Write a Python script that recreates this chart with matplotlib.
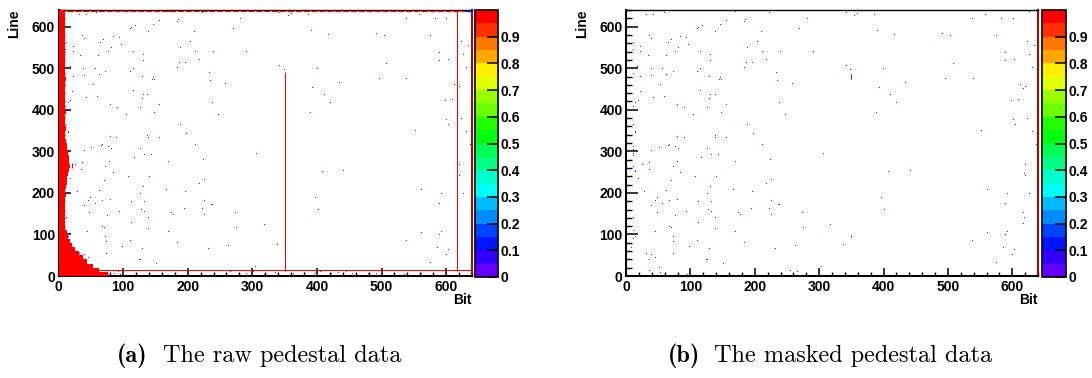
import colorsys
import numpy as np
import matplotlib
matplotlib.use("Agg")
import matplotlib.pyplot as plt
from matplotlib.colors import ListedColormap, BoundaryNorm
from matplotlib.cm import ScalarMappable
from matplotlib.ticker import MultipleLocator

# ---------------- data ----------------
N_BITS = 640
N_LINES = 640

# isolated low-occupancy pixels (bit, line), present in both raw and masked data
noise_bits = [31, 42, 58, 132, 169, 155, 184, 183, 146, 118, 112, 110, 138, 209, 36, 39, 84, 93, 69, 64,
              96, 203, 11, 22, 81, 10, 22, 76, 115, 188, 211, 33, 61, 130, 130, 186, 195, 183, 17, 38,
              56, 115, 72, 110, 10, 22, 39, 62, 129, 146, 144, 147, 53, 115, 21, 42, 59, 130, 137, 129,
              18, 14, 10, 79, 90, 126, 155, 147, 104, 11, 188, 14, 14, 79, 89, 137, 138, 155, 197, 211,
              65, 67, 50, 76, 81, 11, 10, 10, 10, 10, 39, 126, 132, 143, 116, 78, 36, 25, 169, 11,
              13, 14, 35, 72, 84, 18, 107, 140, 70, 130, 28, 62, 126, 166, 195, 48, 45, 67, 79, 112,
              132, 56, 39, 93, 127, 47, 132, 75, 138, 174, 177, 194, 11, 67, 70, 112, 44, 138, 169, 11,
              14, 10, 72, 73, 110, 183, 98, 8, 129, 31, 39, 45, 73, 36, 124, 126, 150, 50, 35, 53, 95,
              232, 222, 341, 359, 354, 385, 280, 269, 390, 416, 239, 290, 217, 341, 348, 399, 232, 234,
              257, 392, 410, 237, 419, 246, 388, 305, 223, 407, 225, 217, 225, 396, 235, 237, 222, 225,
              401, 273, 274, 317, 337, 262, 231, 303, 254, 265,
              626, 557, 537, 582, 600, 491, 503, 574, 622, 634, 589, 626, 589, 602, 507, 630, 433, 495,
              538, 611, 616, 620, 597, 609, 600, 603, 622, 551, 630, 637, 619, 440, 617, 619, 560, 592,
              625, 588, 616, 617, 616, 560, 592, 588, 537, 585, 602, 599, 574]
noise_lines = [628, 628, 633, 638, 634, 613, 615, 610, 603, 601, 596, 594, 586, 586, 576, 569, 574, 572, 567, 560,
               555, 562, 560, 550, 548, 543, 538, 538, 538, 548, 538, 528, 528, 531, 516, 512, 512, 500, 502, 497,
               497, 497, 490, 490, 485, 478, 480, 483, 478, 475, 471, 471, 459, 444, 442, 428, 430, 435, 435, 425,
               420, 415, 406, 411, 403, 403, 411, 391, 387, 363, 363, 346, 343, 334, 331, 336, 331, 331, 342, 314,
               312, 314, 307, 310, 305, 310, 302, 298, 292, 288, 300, 305, 290, 290, 283, 274, 271, 266, 274, 261,
               252, 249, 254, 261, 247, 233, 237, 237, 228, 213, 202, 204, 197, 206, 201, 186, 180, 180, 182, 177,
               177, 172, 168, 153, 158, 151, 153, 144, 139, 151, 146, 160, 139, 117, 115, 127, 105, 112, 105, 108,
               93, 88, 93, 81, 83, 79, 69, 67, 64, 52, 50, 43, 52, 38, 38, 38, 28, 18, 11, 6, 2,
               640, 632, 632, 630, 625, 627, 618, 593, 589, 579, 538, 538, 519, 504, 495, 497, 488, 468,
               461, 452, 435, 415, 415, 387, 391, 293, 278, 249, 230, 220, 180, 187, 170, 170, 160, 146,
               158, 151, 115, 122, 74, 71, 64, 21, 11, 9,
               634, 627, 618, 618, 618, 581, 577, 577, 562, 553, 536, 531, 516, 519, 509, 500, 464, 473,
               473, 459, 449, 454, 420, 423, 375, 363, 377, 348, 346, 314, 266, 252, 245, 240, 206, 196,
               196, 172, 151, 139, 124, 103, 105, 98, 83, 66, 62, 50, 30]
noise_level = 0.02

# raw data: width (in bits) of the saturated block at the left edge, one value per 10-line band
hot_edge_width = [76, 62, 52, 44, 37, 31, 25, 20, 17, 14,
                  12, 10, 9, 9, 10, 9, 10, 9, 10, 11,
                  10, 11, 12, 12, 14, 16, 17, 15, 16, 14,
                  13, 12, 11, 10, 10, 11, 10, 9, 10, 11,
                  10, 9, 10, 9, 9, 10, 9, 11, 9, 10,
                  9, 10, 9, 9, 10, 9, 9, 10, 9, 10,
                  9, 10, 9, 10]
hot_level = 1.0
hot_cols = [350, 616]
hot_col_top = [491, 640]
hot_row = 13
top_row = 638
warm_top_bits = [629, 640]
warm_top_level = 0.12
hot_speck_bits = [86, 92, 290, 300, 318, 335, 362, 380, 395, 405, 422, 432, 444, 454, 470, 475, 479, 491, 534, 561]
hot_speck_lines = [4, 8, 5, 8, 3, 6, 4, 7, 5, 9, 4, 6, 8, 4, 11, 11, 4, 5, 3, 5]
hot_tick_bit = 20
hot_tick_lines = [260, 272]

# masked data: residual low hits on column 349
residual_bit = 349
residual_lines = [[475, 487], [93, 99]]

x_major = [0, 100, 200, 300, 400, 500, 600]
y_major = [0, 100, 200, 300, 400, 500, 600]
cbar_ticks = [0, 0.1, 0.2, 0.3, 0.4, 0.5, 0.6, 0.7, 0.8, 0.9]
cbar_labels = ["0", "0.1", "0.2", "0.3", "0.4", "0.5", "0.6", "0.7", "0.8", "0.9"]
caption_tags = ["(a)", "(b)"]
caption_texts = ["The raw pedestal data", "The masked pedestal data"]

# ---------------- style ----------------
plt.rcParams["font.family"] = ["Liberation Sans", "DejaVu Sans"]
plt.rcParams["font.weight"] = "bold"

# ROOT "pretty" palette with 20 contours
def root_palette(ncont=20, ncol=50):
    cols = []
    for i in range(ncont):
        idx = int((i + 0.99) * ncol / ncont)
        hue = 280.0 - (idx + 1) * 280.0 / ncol
        cols.append(colorsys.hls_to_rgb(hue / 360.0, 0.5, 1.0))
    return cols

cmap = ListedColormap(root_palette())
norm = BoundaryNorm(np.linspace(0, 1, 21), cmap.N)
RED = cmap(norm(hot_level))
LOW = cmap(norm(noise_level))
LW = 0.75

W, H = 1092, 378
fig = plt.figure(figsize=(W / 100, H / 100), dpi=100)

def fx(px):
    return px / W

def fy(py):
    return 1 - py / H

panels = [dict(ax=(58.5, 10, 472, 276), cb=(475, 10, 498, 277), raw=True, tag_x=117, txt_x=163),
          dict(ax=(626, 10, 1038, 276), cb=(1042, 10, 1066, 277), raw=False, tag_x=668, txt_x=714)]

for p, tag, txt in zip(panels, caption_tags, caption_texts):
    x0, y0, x1, y1 = p["ax"]
    ax = fig.add_axes([fx(x0), fy(y1), (x1 - x0) / W, (y1 - y0) / H])
    ax.set_xlim(0, N_BITS)
    ax.set_ylim(0, N_LINES)

    ax.plot(np.array(noise_bits) + 0.5, np.array(noise_lines) + 0.5, ",", color=LOW,
            linestyle="none", zorder=2)

    if p["raw"]:
        img = np.full((N_LINES, N_BITS), np.nan)
        for band, w in enumerate(hot_edge_width):
            img[band * 10:(band + 1) * 10, :w] = hot_level
        ax.imshow(img, origin="lower", extent=[0, N_BITS, 0, N_LINES], aspect="auto",
                  interpolation="nearest", cmap=cmap, norm=norm, zorder=3)
        ax.plot(np.array(hot_speck_bits) + 0.5, np.array(hot_speck_lines) + 0.5, ",",
                color=RED, linestyle="none", zorder=3)
        ax.vlines([c + 0.5 for c in hot_cols], [hot_row] * len(hot_cols), hot_col_top,
                  colors=[RED], linewidth=LW, snap=True, zorder=4)
        ax.hlines([hot_row + 0.5], 0, N_BITS, colors=[RED], linewidth=LW, snap=True, zorder=4)
        ax.vlines([hot_tick_bit + 0.5], hot_tick_lines[0], hot_tick_lines[1], colors=[RED],
                  linewidth=LW, snap=True, zorder=4)
        ax.hlines([top_row + 0.5], 0, warm_top_bits[0], colors=[RED], linewidth=0.9,
                  linestyles=[(0, (5, 1.3))], snap=True, zorder=4)
        ax.hlines([top_row + 0.5], warm_top_bits[0], warm_top_bits[1],
                  colors=[cmap(norm(warm_top_level))], linewidth=0.9, snap=True, zorder=4)
    else:
        for lo, hi in residual_lines:
            ax.vlines([residual_bit + 0.5], lo, hi, colors=[LOW], linewidth=LW, snap=True,
                      zorder=4)

    ax.set_xticks(x_major)
    ax.set_yticks(y_major)
    ax.xaxis.set_minor_locator(MultipleLocator(20))
    ax.yaxis.set_minor_locator(MultipleLocator(20))
    ax.tick_params(axis="x", which="major", direction="in", length=5.5, width=1.1,
                   pad=3, labelsize=10, top=False)
    ax.tick_params(axis="x", which="minor", direction="in", length=3, width=1.0, top=False)
    ax.tick_params(axis="y", which="major", direction="in", length=8.5, width=1.1,
                   pad=2.5, labelsize=10, right=False)
    ax.tick_params(axis="y", which="minor", direction="in", length=4.5, width=1.0, right=False)
    for lab in ax.get_xticklabels() + ax.get_yticklabels():
        lab.set_fontweight("bold")
    ax.spines["left"].set_linewidth(1.5)
    ax.spines["bottom"].set_linewidth(1.5)
    ax.spines["top"].set_linewidth(1.0)
    ax.spines["right"].set_linewidth(1.6)
    ax.spines["right"].set_color("#7a1c12")

    fig.text(fx(x0 - 44), fy(y0), "Line", rotation=90, ha="center", va="top",
             fontsize=10, fontweight="bold")
    fig.text(fx(x1), fy(300), "Bit", ha="right", va="center", fontsize=10, fontweight="bold")

    cx0, cy0, cx1, cy1 = p["cb"]
    cax = fig.add_axes([fx(cx0), fy(cy1), (cx1 - cx0) / W, (cy1 - cy0) / H])
    cb = fig.colorbar(ScalarMappable(norm=norm, cmap=cmap), cax=cax, ticks=cbar_ticks)
    cb.ax.set_yticklabels(cbar_labels)
    cb.ax.tick_params(direction="in", length=8, width=1.1, pad=2, labelsize=10, right=True)
    cb.ax.minorticks_off()
    for lab in cb.ax.get_yticklabels():
        lab.set_fontweight("bold")
    cb.outline.set_linewidth(1.2)

    fig.text(fx(p["tag_x"]), fy(362), tag, ha="left", va="baseline", fontsize=17.5,
             family="cmb10", fontweight="normal")
    fig.text(fx(p["txt_x"]), fy(362), txt, ha="left", va="baseline", fontsize=17.5,
             family="cmr10", fontweight="normal")

fig.savefig("out.png", dpi=100)
